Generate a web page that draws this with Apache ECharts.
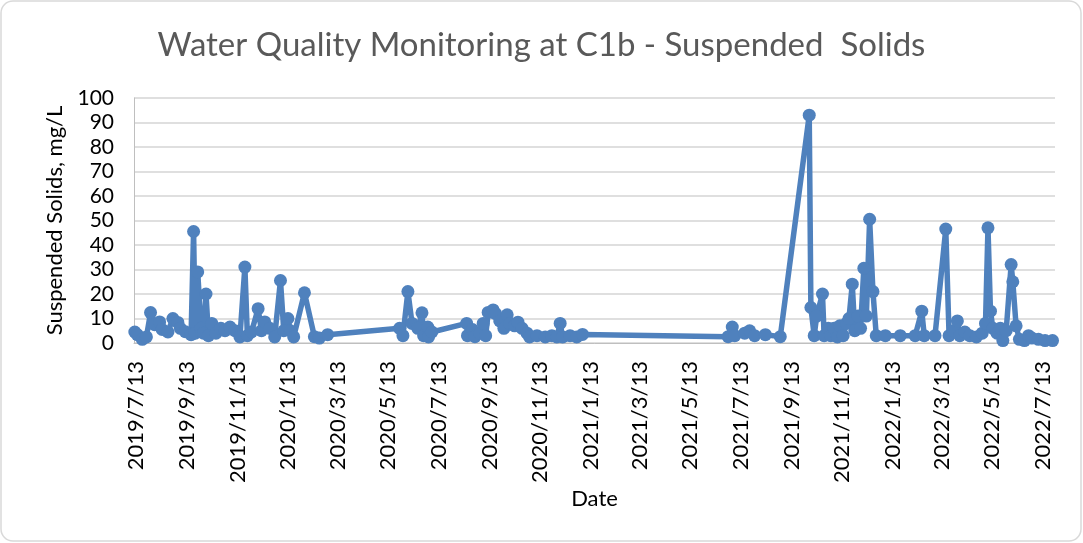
<!DOCTYPE html>
<html>
<head>
<meta charset="utf-8">
<script src="https://cdn.jsdelivr.net/npm/echarts@6/dist/echarts.min.js"></script>
<style>
html,body{margin:0;padding:0;background:#fff;}
#c{width:1083px;height:543px;}
</style>
</head>
<body>
<div id="c"></div>
<script>
// ---- data ----
const titleText = 'Water Quality Monitoring at C1b - Suspended  Solids';
const yAxisName = 'Suspended Solids, mg/L';
const xAxisName = 'Date';
const tickLabels = ['2019/7/13','2019/9/13','2019/11/13','2020/1/13','2020/3/13','2020/5/13','2020/7/13','2020/9/13','2020/11/13','2021/1/13','2021/3/13','2021/5/13','2021/7/13','2021/9/13','2021/11/13','2022/1/13','2022/3/13','2022/5/13','2022/7/13'];
const sampleDates = [
 '2019-07-12','2019-07-15','2019-07-21','2019-07-26','2019-07-31','2019-08-05','2019-08-11','2019-08-14','2019-08-21','2019-08-27',
 '2019-09-02','2019-09-05','2019-09-11','2019-09-18','2019-09-21','2019-09-23','2019-09-26','2019-09-30','2019-10-03','2019-10-06',
 '2019-10-09','2019-10-13','2019-10-18','2019-10-24','2019-10-29','2019-11-04','2019-11-10','2019-11-16','2019-11-22','2019-11-25',
 '2019-11-30','2019-12-08','2019-12-12','2019-12-16','2019-12-22','2019-12-28','2020-01-04','2020-01-08','2020-01-13','2020-01-16',
 '2020-01-20','2020-02-02','2020-02-14','2020-02-20','2020-03-01',
 '2020-05-27','2020-05-31','2020-06-06','2020-06-11','2020-06-18','2020-06-23','2020-06-25','2020-06-30','2020-07-01','2020-07-05',
 '2020-08-16','2020-08-17','2020-08-23','2020-08-26','2020-09-01','2020-09-05','2020-09-08','2020-09-11','2020-09-17','2020-09-20',
 '2020-09-25','2020-09-30','2020-10-04','2020-10-07','2020-10-13','2020-10-17','2020-10-22','2020-10-28','2020-10-31','2020-11-09',
 '2020-11-19','2020-11-27','2020-12-03','2020-12-07','2020-12-10','2020-12-19','2020-12-27','2021-01-03',
 '2021-06-28','2021-07-03','2021-07-06','2021-07-18','2021-07-24','2021-07-30','2021-08-12','2021-08-30',
 '2021-10-04','2021-10-06','2021-10-10','2021-10-13','2021-10-20','2021-10-22','2021-10-27','2021-10-30','2021-11-03','2021-11-07',
 '2021-11-10','2021-11-14','2021-11-18','2021-11-21','2021-11-25','2021-11-28','2021-12-02','2021-12-05','2021-12-09','2021-12-12',
 '2021-12-16','2021-12-20','2021-12-24','2022-01-04','2022-01-22','2022-02-09','2022-02-17','2022-02-20','2022-03-05','2022-03-18',
 '2022-03-22','2022-03-27','2022-04-01','2022-04-04','2022-04-10','2022-04-16','2022-04-24','2022-05-01','2022-05-05','2022-05-08',
 '2022-05-11','2022-05-14','2022-05-19','2022-05-23','2022-05-26','2022-05-30','2022-06-05','2022-06-07','2022-06-11','2022-06-15',
 '2022-06-21','2022-06-26','2022-06-30','2022-07-08','2022-07-16','2022-07-25'
];
const suspendedSolids = [
 4.5,3.4,1.5,2.5,12.4,7.5,8.6,5.5,4.5,10,
 8.4,6,4.6,3.4,45.5,4,29,6,4,20,
 3,8,4,6,5,6.5,5,2.5,31,3,
 4.5,14,5,8.6,6,2.5,25.5,5,10,5,
 2.5,20.5,2.6,2,3.4,
 6,3,21,8,6,12.3,3,6.5,2.5,4.5,
 8,3,5.5,2.6,4,8,3,12.5,13.5,12,
 9,6,11.5,8,7,8.5,6,4,2.5,3,
 2.5,3,2.5,8,2.5,3,2.5,3.5,
 2.6,6.5,3,4,5,3,3.4,2.6,
 93,14.5,3,11,20,3,6,3,6,2.5,
 7,3,8,10,24,5,11,6,30.5,11,
 50.5,21,3,3,3,3,13,3,3,46.5,
 3,5,9,3,4.5,3,2.5,4,8,47,
 13,6,4,6,1,5,32,25,7,1.5,
 1,3,2,1.5,1,1
];
const yTicks = [0,10,20,30,40,50,60,70,80,90,100];

// ---- helpers ----
function ts(y,m,d){ return Date.UTC(y, m-1, d); }
function parseIso(s){ const p=s.split('-').map(Number); return ts(p[0],p[1],p[2]); }
function parseSlash(s){ const p=s.split('/').map(Number); return ts(p[0],p[1],p[2]); }
const tickValues = tickLabels.map(parseSlash);
const labelMap = {}; tickLabels.forEach((l,i)=>{ labelMap[tickValues[i]] = l; });
const seriesData = sampleDates.map((d,i)=>[parseIso(d), suspendedSolids[i]]);

const FONT = 'Lato';
const chart = echarts.init(document.getElementById('c'), null, {renderer:'canvas'});
chart.setOption({
  animation:false,
  backgroundColor:'#ffffff',
  title:{
    text:titleText, left:'center', top:24,
    textStyle:{fontFamily:FONT, fontSize:33, fontWeight:'normal', color:'#595959'}
  },
  graphic:[{type:'rect', shape:{x:1, y:1, width:1080, height:540, r:12}, style:{fill:'none', stroke:'#d9d9d9', lineWidth:1.5}, silent:true, z:-1}],
  grid:{left:134, right:28, top:98, bottom:200, containLabel:false},
  xAxis:{
    type:'value',
    min:ts(2019,7,11), max:ts(2022,7,28),
    name:xAxisName, nameLocation:'middle', nameGap:145,
    nameTextStyle:{fontFamily:FONT, fontSize:22, color:'#000'},
    axisLine:{show:true, lineStyle:{color:'#bfbfbf', width:1}},
    axisTick:{show:false},
    splitLine:{show:false},
    axisLabel:{
      customValues:tickValues, rotate:90, margin:18, showMinLabel:true, showMaxLabel:true,
      fontFamily:FONT, fontSize:22, color:'#000',
      formatter:function(v){ return labelMap[v] || ''; }
    }
  },
  yAxis:{
    type:'value', min:0, max:100, interval:10,
    name:yAxisName, nameLocation:'middle', nameGap:68,
    nameTextStyle:{fontFamily:FONT, fontSize:22, color:'#000'},
    axisLine:{show:true, lineStyle:{color:'#bfbfbf', width:1}},
    axisTick:{show:false},
    splitLine:{show:true, lineStyle:{color:'#d4d4d4', width:1.5}},
    axisLabel:{fontFamily:FONT, fontSize:21, color:'#000', margin:20,
      formatter:function(v){ return yTicks.indexOf(v)>=0 ? String(v) : ''; }}
  },
  series:[{
    type:'line', data:seriesData,
    symbol:'circle', symbolSize:13, showAllSymbol:true,
    lineStyle:{color:'#4F81BD', width:5.5},
    itemStyle:{color:'#4F81BD'},
    clip:false
  }]
});
</script>
</body>
</html>
